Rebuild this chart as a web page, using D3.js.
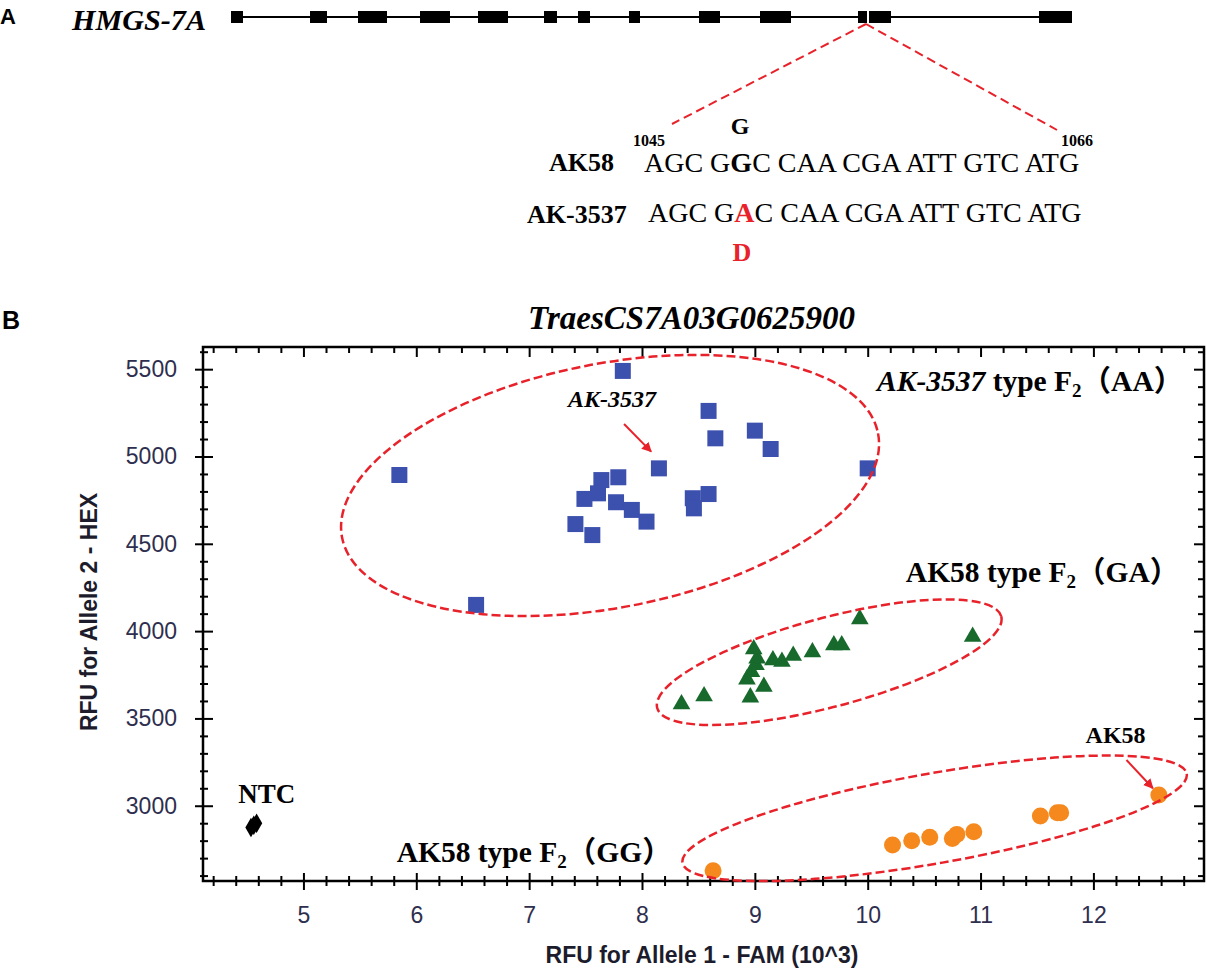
<!DOCTYPE html>
<html>
<head>
<meta charset="utf-8">
<script src="https://cdn.jsdelivr.net/npm/d3@7"></script>
<style>
body { margin: 0; background: #fff; }
text { font-family: "Liberation Serif", "Times New Roman", "Noto Sans CJK SC", serif; }
.sans { font-family: "Liberation Sans", Arial, sans-serif; }
</style>
</head>
<body>
<svg id="fig"></svg>
<script>
// panel A: exon blocks of HMGS-7A, relative gene units
const exonStart = [0, 79, 127, 189, 247, 313, 347, 398, 468, 529, 627, 808];
const exonEnd   = [12, 96, 156, 219, 277, 326, 359, 409, 489, 560, 660, 841];
const snpPos = 637;

// panel B: KASP genotyping, RFU allele 1 (FAM, 10^3) and allele 2 (HEX)
const aaX = [7.83, 5.85, 8.59, 8.65, 9.00, 9.14, 8.15, 10.00, 7.79, 7.64, 7.49, 7.61, 7.77, 7.91, 8.04, 7.41, 7.56, 8.45, 8.59, 8.46, 6.53];
const aaY = [5490, 4894, 5261, 5104, 5148, 5043, 4932, 4932, 4881, 4865, 4757, 4789, 4738, 4694, 4627, 4613, 4550, 4761, 4785, 4703, 4150];
const gaX = [8.35, 8.55, 8.96, 9.08, 8.93, 8.97, 9.01, 9.02, 8.99, 9.16, 9.24, 9.34, 9.51, 9.70, 9.77, 9.93, 10.93];
const gaY = [3582, 3628, 3621, 3682, 3724, 3767, 3806, 3844, 3896, 3834, 3825, 3859, 3879, 3920, 3920, 4069, 3968];
const ggX = [8.63, 10.22, 10.39, 10.55, 10.75, 10.79, 10.94, 11.53, 11.68, 11.71, 12.58];
const ggY = [2628, 2775, 2800, 2819, 2813, 2836, 2851, 2941, 2960, 2960, 3061];
const ntcX = [4.535, 4.56, 4.585];
const ntcY = [2875, 2888, 2900];

const xTicks = [5, 6, 7, 8, 9, 10, 11, 12];
const yTicks = [3000, 3500, 4000, 4500, 5000, 5500];

const W = 1207, H = 969;
const red = "#e8222a";
const svg = d3.select("#fig").attr("width", W).attr("height", H);

svg.append("defs").append("marker").attr("id", "arr")
    .attr("viewBox", "0 0 10 10").attr("refX", 9).attr("refY", 5)
    .attr("markerWidth", 5).attr("markerHeight", 5).attr("orient", "auto")
    .append("path").attr("d", "M0,0L10,5L0,10z").attr("fill", red);

// ---------- panel A ----------
svg.append("text").attr("class", "sans").attr("x", 0).attr("y", 24)
    .attr("font-size", 22).attr("font-weight", "bold").text("A");
svg.append("text").attr("x", 72).attr("y", 30).attr("font-size", 29)
    .attr("font-weight", "bold").attr("font-style", "italic")
    .attr("textLength", 134).attr("lengthAdjust", "spacingAndGlyphs").text("HMGS-7A");

const gx = d3.scaleLinear().domain([0, 841]).range([231, 1072]);
svg.append("line").attr("x1", gx(0)).attr("x2", gx(841)).attr("y1", 17).attr("y2", 17)
    .attr("stroke", "#000").attr("stroke-width", 2);
svg.selectAll(".exon").data(d3.zip(exonStart, exonEnd)).join("rect").attr("class", "exon")
    .attr("x", d => gx(d[0])).attr("width", d => gx(d[1]) - gx(d[0]))
    .attr("y", 11).attr("height", 12).attr("fill", "#000");
svg.append("line").attr("x1", gx(snpPos)).attr("x2", gx(snpPos)).attr("y1", 11).attr("y2", 23)
    .attr("stroke", "#fff").attr("stroke-width", 2);

[[672, 124], [1057, 130]].forEach(p => {
    svg.append("line").attr("x1", gx(snpPos) - 2).attr("y1", 24).attr("x2", p[0]).attr("y2", p[1])
        .attr("stroke", red).attr("stroke-width", 2).attr("stroke-dasharray", "9,5");
});

svg.append("text").attr("x", 740).attr("y", 134).attr("text-anchor", "middle")
    .attr("font-size", 24).attr("font-weight", "bold").text("G");
svg.append("text").attr("x", 633).attr("y", 146).attr("font-size", 16).attr("font-weight", "bold").text("1045");
svg.append("text").attr("x", 1061).attr("y", 146).attr("font-size", 16).attr("font-weight", "bold").text("1066");

svg.append("text").attr("x", 549).attr("y", 171).attr("font-size", 26).attr("font-weight", "bold").text("AK58");
const s1 = svg.append("text").attr("x", 644).attr("y", 172).attr("font-size", 28);
s1.append("tspan").text("AGC G");
s1.append("tspan").attr("font-weight", "bold").text("G");
s1.append("tspan").text("C CAA CGA ATT GTC ATG");

svg.append("text").attr("x", 527).attr("y", 223).attr("font-size", 26).attr("font-weight", "bold").text("AK-3537");
const s2 = svg.append("text").attr("x", 648).attr("y", 222).attr("font-size", 28);
s2.append("tspan").text("AGC G");
s2.append("tspan").attr("font-weight", "bold").attr("fill", red).text("A");
s2.append("tspan").text("C CAA CGA ATT GTC ATG");

svg.append("text").attr("x", 742).attr("y", 261).attr("text-anchor", "middle")
    .attr("font-size", 26).attr("font-weight", "bold").attr("fill", red).text("D");

// ---------- panel B ----------
const L = 203, R = 1204, T = 347, B = 881;
const x = d3.scaleLinear().domain([4.11, 12.98]).range([L, R]);
const y = d3.scaleLinear().domain([2569, 5627]).range([B, T]);

svg.append("text").attr("class", "sans").attr("x", 2).attr("y", 329)
    .attr("font-size", 25).attr("font-weight", "bold").text("B");
svg.append("text").attr("x", 528).attr("y", 329).attr("font-size", 33)
    .attr("font-weight", "bold").attr("font-style", "italic").text("TraesCS7A03G0625900");

const xMinor = d3.range(4.2, 12.9, 0.2).filter(v => Math.abs(v - Math.round(v)) > 0.01);
const yMinor = d3.range(2600, 5601, 100).filter(v => v % 500 !== 0);
const tickCol = "#2e2e4e";

// bottom
const bMin = svg.append("g").attr("transform", `translate(0,${B})`)
    .call(d3.axisBottom(x).tickValues(xMinor).tickSize(5).tickFormat(""));
bMin.selectAll(".tick line").attr("y1", -5);
const bMaj = svg.append("g").attr("transform", `translate(0,${B})`)
    .call(d3.axisBottom(x).tickValues(xTicks).tickSize(9).tickFormat(d3.format("d")));
bMaj.selectAll(".tick line").attr("y1", -8);
bMaj.selectAll(".tick text").attr("y", 42).attr("dy", 0).attr("font-size", 23)
    .attr("class", "sans").attr("fill", tickCol);

// left
const lMin = svg.append("g").attr("transform", `translate(${L},0)`)
    .call(d3.axisLeft(y).tickValues(yMinor).tickSize(3).tickFormat(""));
lMin.selectAll(".tick line").attr("x1", 5);
const lMaj = svg.append("g").attr("transform", `translate(${L},0)`)
    .call(d3.axisLeft(y).tickValues(yTicks).tickSize(8).tickFormat(d3.format("d")));
lMaj.selectAll(".tick line").attr("x1", 10);
lMaj.selectAll(".tick text").attr("x", -26).attr("font-size", 23)
    .attr("class", "sans").attr("fill", tickCol);

// top and right, ticks pointing inwards
const tMin = svg.append("g").attr("transform", `translate(0,${T})`)
    .call(d3.axisBottom(x).tickValues(xMinor).tickSize(6).tickFormat(""));
const tMaj = svg.append("g").attr("transform", `translate(0,${T})`)
    .call(d3.axisBottom(x).tickValues(xTicks).tickSize(10).tickFormat(""));
const rMin = svg.append("g").attr("transform", `translate(${R},0)`)
    .call(d3.axisLeft(y).tickValues(yMinor).tickSize(6).tickFormat(""));
const rMaj = svg.append("g").attr("transform", `translate(${R},0)`)
    .call(d3.axisLeft(y).tickValues(yTicks).tickSize(10).tickFormat(""));

[bMin, bMaj, lMin, lMaj, tMin, tMaj, rMin, rMaj].forEach(g => {
    g.select(".domain").remove();
    g.selectAll(".tick line").attr("stroke", "#000").attr("stroke-width", 2);
});

svg.append("rect").attr("x", L).attr("y", T).attr("width", R - L).attr("height", B - T)
    .attr("fill", "none").attr("stroke", "#000").attr("stroke-width", 2.5);

// points
const drawPts = (xs, ys, type, size, col) => {
    svg.append("g").selectAll("path").data(d3.zip(xs, ys)).join("path")
        .attr("transform", d => `translate(${x(d[0])},${y(d[1])})`)
        .attr("d", d3.symbol(type, size)).attr("fill", col);
};
drawPts(aaX, aaY, d3.symbolSquare, 256, "#3c50ae");
drawPts(gaX, gaY, d3.symbolTriangle, 135, "#17692c");
drawPts(ggX, ggY, d3.symbolCircle, 227, "#f5891e");
drawPts(ntcX, ntcY, d3.symbolDiamond, 110, "#000");

// cluster ellipses: centre in data units, radii in px, tilt in degrees
const rings = [
    {cx: 7.717, cy: 4834, rx: 273, ry: 122, a: -11},
    {cx: 9.659, cy: 3822, rx: 178, ry: 44.5, a: -14.9},
    {cx: 10.593, cy: 2928, rx: 256, ry: 45, a: -10}
];
svg.append("g").selectAll("ellipse").data(rings).join("ellipse")
    .attr("cx", d => x(d.cx)).attr("cy", d => y(d.cy)).attr("rx", d => d.rx).attr("ry", d => d.ry)
    .attr("transform", d => `rotate(${d.a},${x(d.cx)},${y(d.cy)})`)
    .attr("fill", "none").attr("stroke", red).attr("stroke-width", 2.5).attr("stroke-dasharray", "9,4");

// arrows
[[7.841, 5186, 8.081, 5028], [12.293, 3262, 12.527, 3100]].forEach(a => {
    svg.append("line").attr("x1", x(a[0])).attr("y1", y(a[1])).attr("x2", x(a[2])).attr("y2", y(a[3]))
        .attr("stroke", red).attr("stroke-width", 2).attr("marker-end", "url(#arr)");
});

// labels
const groupLabel = (px, py, name, nameItalic, gt) => {
    const t = svg.append("text").attr("x", x(px)).attr("y", y(py)).attr("font-size", 29.5).attr("font-weight", "bold");
    t.append("tspan").attr("font-style", nameItalic ? "italic" : "normal").text(name);
    t.append("tspan").text(" type F");
    t.append("tspan").attr("font-size", 19).attr("dy", 6).text("2");
    t.append("tspan").attr("dy", -6).text("（" + gt + "）");
};
groupLabel(10.083, 5377, "AK-3537", true, "AA");
groupLabel(10.338, 4283, "AK58", false, "GA");
groupLabel(5.826, 2680, "AK58", false, "GG");

svg.append("text").attr("x", x(4.423)).attr("y", y(3017)).attr("font-size", 27).attr("font-weight", "bold").text("NTC");
svg.append("text").attr("x", x(7.344)).attr("y", y(5285)).attr("font-size", 24)
    .attr("font-weight", "bold").attr("font-style", "italic").text("AK-3537");
svg.append("text").attr("x", x(11.931)).attr("y", y(3358)).attr("font-size", 24).attr("font-weight", "bold").text("AK58");

// axis titles
svg.append("text").attr("class", "sans").attr("x", 702).attr("y", 963).attr("text-anchor", "middle")
    .attr("font-size", 23).attr("font-weight", "bold").attr("fill", "#1c1c2c").text("RFU for Allele 1 - FAM (10^3)");
svg.append("text").attr("class", "sans").attr("transform", "translate(97,612) rotate(-90)")
    .attr("text-anchor", "middle").attr("font-size", 23).attr("font-weight", "bold")
    .attr("fill", "#1c1c2c").text("RFU for Allele 2 - HEX");
</script>
</body>
</html>
